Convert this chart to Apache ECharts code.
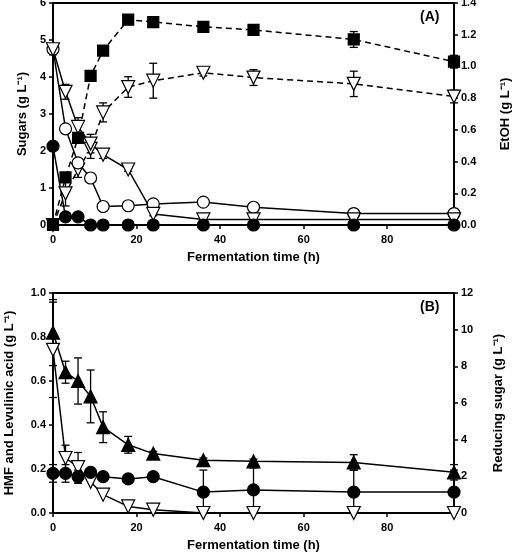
<!DOCTYPE html>
<html><head><meta charset="utf-8">
<script src="https://cdn.jsdelivr.net/npm/echarts@6/dist/echarts.min.js"></script>
<style>html,body{margin:0;padding:0;background:#fff}#c{width:515px;height:554px}</style>
</head><body><div id="c"></div>
<script>
// ---- data ----
const time = [0, 3, 6, 9, 12, 18, 24, 36, 48, 72, 96];
const xTickLabels = [0, 20, 40, 60, 80];
// Panel A (left axis: sugars g/L)
const sugarFilledCircle = [2.13, 0.22, 0.22, 0, 0, 0, 0, 0, 0, 0, 0];
const sugarOpenCircle   = [4.75, 2.6, 1.68, 1.27, 0.5, 0.52, 0.57, 0.62, 0.48, 0.31, 0.31];
const sugarOpenTriangle = [4.75, 3.6, 2.65, 2.2, 1.9, 1.5, 0.3, 0.15, 0.15, 0.15, 0.15];
const errOpenCircle     = [0, 0.1, 0.1, 0.05, 0.05, 0.05, 0.05, 0.05, 0.05, 0.05, 0.05];
const errOpenTriangle   = [0.15, 0.2, 0.25, 0.25, 0.1, 0.05, 0.05, 0.1, 0.1, 0.1, 0.1];
// Panel A (right axis: EtOH g/L)
const etohSquare   = [0, 0.30, 0.55, 0.94, 1.10, 1.295, 1.28, 1.25, 1.23, 1.17, 1.03];
const etohTriangle = [0, 0.2, 0.35, 0.48, 0.71, 0.87, 0.91, 0.96, 0.93, 0.89, 0.81];
const errEtohSquare   = [0, 0.02, 0.02, 0.02, 0.02, 0.02, 0.02, 0.02, 0.02, 0.05, 0.04];
const errEtohTriangle = [0, 0.08, 0.05, 0.06, 0.06, 0.065, 0.11, 0.02, 0.05, 0.08, 0.04];
// Panel B (left axis: HMF and levulinic acid g/L)
const hmfTriangle   = [0.82, 0.64, 0.60, 0.53, 0.39, 0.31, 0.27, 0.24, 0.235, 0.23, 0.185];
const levulCircle   = [0.18, 0.18, 0.165, 0.185, 0.165, 0.155, 0.165, 0.095, 0.105, 0.095, 0.095];
const errHmf        = [0.15, 0.05, 0.105, 0.12, 0.07, 0.038, 0.01, 0.01, 0.01, 0.035, 0.035];
const errLevul      = [0.04, 0.04, 0.03, 0.02, 0.01, 0.01, 0.01, 0.1, 0.1, 0.1, 0.1];
// Panel B (right axis: reducing sugar g/L)
const reducingSugar = [8.9, 3.0, 2.5, 1.7, 1.0, 0.36, 0.18, 0, 0, 0, 0];
const errReducing   = [2.6, 0.7, 0.8, 0, 0, 0, 0, 0, 0, 0, 0];

// ---- chart ----
const FONT = '"Liberation Sans", Arial, sans-serif';
const pts = v => time.map((t, i) => [t, v[i]]);
const errPts = (v, e) => time.map((t, i) => [t, v[i], e[i]]);

function errSeries(v, e, xi, yi, ymin) {
  return {
    type: 'custom', xAxisIndex: xi, yAxisIndex: yi, z: 1, silent: true,
    encode: { x: 0, y: 1 },
    data: errPts(v, e),
    renderItem: function (params, api) {
      const x = api.value(0), y = api.value(1), er = api.value(2);
      if (!er) return;
      const lo = Math.max(ymin, y - er);
      const pTop = api.coord([x, y + er]);
      const pBot = api.coord([x, lo]);
      const st = { stroke: '#000', lineWidth: 1.3 };
      const ch = [
        { type: 'line', shape: { x1: pTop[0], y1: pTop[1], x2: pBot[0], y2: pBot[1] }, style: st },
        { type: 'line', shape: { x1: pTop[0] - 4, y1: pTop[1], x2: pTop[0] + 4, y2: pTop[1] }, style: st }
      ];
      if (y - er >= ymin) ch.push({ type: 'line', shape: { x1: pBot[0] - 4, y1: pBot[1], x2: pBot[0] + 4, y2: pBot[1] }, style: st });
      return { type: 'group', children: ch };
    }
  };
}

function lineSeries(v, xi, yi, symbol, filled, dashed, size, rotate) {
  return {
    type: 'line', xAxisIndex: xi, yAxisIndex: yi, z: 3,
    data: pts(v), symbol: symbol, symbolSize: size, symbolRotate: rotate || 0,
    showAllSymbol: true, animation: false,
    lineStyle: { color: '#000', width: 1.5, type: dashed ? [6, 4] : 'solid' },
    itemStyle: { color: filled ? '#000' : '#fff', borderColor: '#000', borderWidth: 1.2, opacity: 1 }
  };
}

const labelStyle = { color: '#000', fontFamily: FONT, fontWeight: 'bold', fontSize: 11 };
const nameStyle = { color: '#000', fontFamily: FONT, fontWeight: 'bold', fontSize: 13 };
const axisLine = { show: true, lineStyle: { color: '#000', width: 2 } };
const axisTick = { show: true, inside: false, length: 4, lineStyle: { color: '#000', width: 1.5 } };

function xAx(gi) {
  return {
    type: 'value', gridIndex: gi, min: 0, max: 96, interval: 20,
    axisLine: axisLine, axisTick: axisTick, splitLine: { show: false },
    axisLabel: Object.assign({ margin: 9, formatter: v => xTickLabels.indexOf(v) >= 0 ? String(v) : '' }, labelStyle),
    name: 'Fermentation time (h)', nameLocation: 'middle', nameGap: 26, nameTextStyle: nameStyle
  };
}
function yAx(gi, pos, max, interval, dec, name, gap) {
  return {
    type: 'value', gridIndex: gi, position: pos, min: 0, max: max, interval: interval,
    axisLine: axisLine, axisTick: axisTick, splitLine: { show: false },
    axisLabel: Object.assign({ margin: 7, formatter: v => v.toFixed(dec) }, labelStyle),
    name: name, nameLocation: 'middle', nameGap: gap, nameTextStyle: nameStyle
  };
}

const chart = echarts.init(document.getElementById('c'), null, { renderer: 'canvas' });
chart.setOption({
  animation: false,
  backgroundColor: '#fff',
  grid: [
    { left: 53, right: 61, top: 3, height: 222, containLabel: false, outerBoundsMode: 'none', show: true, borderColor: '#000', borderWidth: 2, backgroundColor: 'transparent' },
    { left: 53, right: 61, top: 293, height: 220, containLabel: false, outerBoundsMode: 'none', show: true, borderColor: '#000', borderWidth: 2, backgroundColor: 'transparent' }
  ],
  xAxis: [xAx(0), xAx(1)],
  yAxis: [
    yAx(0, 'left', 6, 1, 0, 'Sugars (g L\u207B\u00B9)', 23),
    yAx(0, 'right', 1.4, 0.2, 1, 'EtOH (g L\u207B\u00B9)', 45),
    yAx(1, 'left', 1.0, 0.2, 1, 'HMF and Levulinic acid (g L\u207B\u00B9)', 37),
    yAx(1, 'right', 12, 2, 0, 'Reducing sugar (g L\u207B\u00B9)', 38)
  ],
  graphic: [
    { type: 'text', left: 420, top: 10, style: { text: '(A)', fill: '#000', font: 'bold 14px ' + FONT } },
    { type: 'text', left: 420, top: 300, style: { text: '(B)', fill: '#000', font: 'bold 14px ' + FONT } }
  ],
  series: [
    // error bars
    errSeries(sugarOpenCircle, errOpenCircle, 0, 0, 0),
    errSeries(sugarOpenTriangle, errOpenTriangle, 0, 0, 0),
    errSeries(etohSquare, errEtohSquare, 0, 1, 0),
    errSeries(etohTriangle, errEtohTriangle, 0, 1, 0),
    errSeries(hmfTriangle, errHmf, 1, 2, 0),
    errSeries(levulCircle, errLevul, 1, 2, 0),
    errSeries(reducingSugar, errReducing, 1, 3, 0),
    // Panel A
    lineSeries(etohTriangle, 0, 1, 'triangle', false, true, 13, 180),
    lineSeries(sugarOpenCircle, 0, 0, 'circle', false, false, 12),
    lineSeries(sugarOpenTriangle, 0, 0, 'triangle', false, false, 13, 180),
    lineSeries(sugarFilledCircle, 0, 0, 'circle', true, false, 12),
    lineSeries(etohSquare, 0, 1, 'rect', true, true, 11),
    // Panel B
    lineSeries(reducingSugar, 1, 3, 'triangle', false, false, 13, 180),
    lineSeries(levulCircle, 1, 2, 'circle', true, false, 12),
    lineSeries(hmfTriangle, 1, 2, 'triangle', true, false, 13)
  ]
});
</script></body></html>
